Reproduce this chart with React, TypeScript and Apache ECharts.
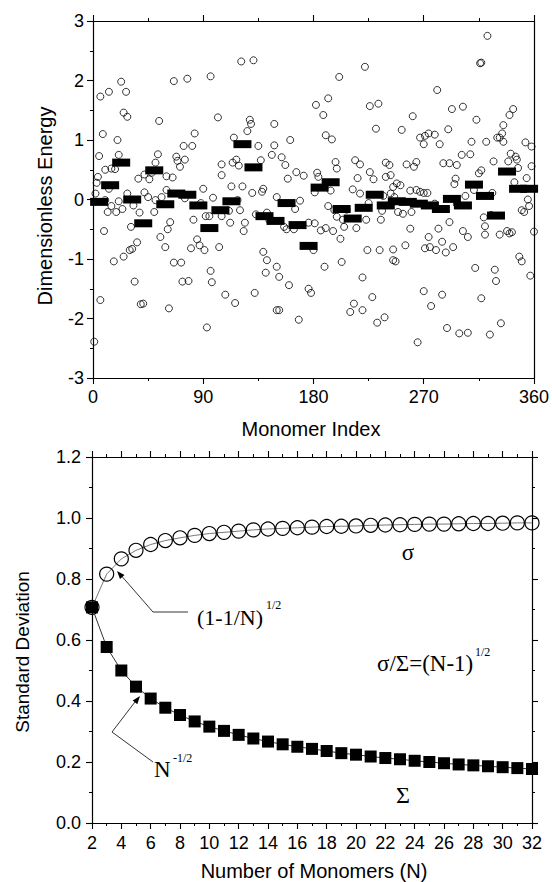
import React, { useEffect, useRef } from "react";
import * as echarts from "echarts";

// ---- Top panel: energy of each monomer (index, value) ----
const energyPoints: [number, number][] = [
  [1,-2.39],[2,0.10],[3,0.28],[4,0.38],[5,0.73],[6,1.73],[6,-1.69],[8,1.10],[9,-0.53],[10,0.50],
  [10,-0.01],[12,-0.21],[13,1.81],[13,0.18],[15,0.52],[15,-0.11],[17,-1.04],[18,0.51],[19,-0.21],[20,1.00],
  [21,-0.03],[21,0.75],[23,1.98],[24,-0.16],[25,1.46],[25,-0.96],[27,1.81],[28,1.39],[28,0.10],[30,-0.85],
  [31,-0.46],[32,-0.83],[33,-0.10],[34,-1.38],[36,-0.72],[37,0.35],[38,-0.22],[39,-1.76],[41,-1.75],[42,0.42],
  [42,0.12],[45,0.04],[46,0.34],[48,0.45],[50,-0.21],[51,0.62],[51,-0.01],[53,0.76],[54,1.32],[55,-0.63],
  [56,0.04],[59,-0.80],[60,0.39],[60,0.16],[61,-0.50],[62,-1.83],
  [63,-0.38],[65,0.37],[66,1.99],[66,-1.06],[68,0.72],[69,0.65],[71,0.55],[72,-1.06],[73,-1.38],[74,0.90],
  [75,0.67],[75,0.02],[77,2.03],[78,-1.37],[80,-0.82],[81,0.90],[82,-0.34],[83,1.11],[85,-0.67],[87,-0.77],
  [88,-0.06],[90,0.18],[91,-0.85],[92,-0.28],[93,-2.15],[95,-0.28],[96,2.07],[96,-1.20],[97,-1.39],[98,0.03],
  [102,1.38],[103,-0.80],[105,0.59],[105,-0.28],[105,0.41],[108,-1.60],[111,-0.19],[112,-0.39],[113,0.22],[114,0.62],
  [115,1.04],[116,-1.74],[117,0.67],[118,-0.01],[119,0.57],[120,-0.18],[121,2.32],[122,0.22],[123,-0.53],[124,-0.39],
  [126,1.15],[128,1.34],[129,1.27],[130,0.11],[131,2.34],[132,-1.57],[133,-0.25],[135,0.90],[137,0.66],[138,0.13],
  [139,0.18],[139,-0.88],[141,-1.23],[142,-1.02],[142,-0.22],[144,-0.35],[146,0.75],[148,0.91],[148,1.27],[150,0.04],
  [150,-1.13],[150,-1.86],[152,-1.30],[152,-1.86],[154,0.71],[156,-0.46],[157,0.58],[158,-0.50],[159,0.35],[160,-1.44],
  [161,1.00],[164,-0.50],[165,-0.16],[166,0.46],[168,-2.02],[169,-0.02],[172,0.40],[176,-0.39],[176,-1.50],[178,-1.57],
  [180,-0.85],[181,-0.40],[181,0.12],[182,1.59],[183,0.45],[184,0.38],[186,-0.52],
  [188,1.42],[189,-1.13],[190,1.08],[190,-0.48],[192,1.70],[192,-0.11],[194,0.15],[195,1.01],[196,-0.53],[197,-0.18],
  [198,0.63],[199,-0.29],[199,0.52],[201,2.06],[202,-0.66],[203,-1.05],[204,-0.34],[205,-0.46],[207,-0.17],[210,-1.89],
  [212,0.17],[213,-1.75],[214,0.66],[215,-0.48],[216,0.36],[218,0.10],[218,0.59],[220,-1.31],[220,-1.86],[222,2.23],
  [223,-0.34],[224,-0.85],[225,-0.06],[226,1.57],[226,0.46],[228,-1.64],[229,0.34],[231,1.19],[232,-2.07],[233,1.61],
  [234,-0.85],[235,-0.34],[236,-0.19],[237,0.06],[238,-1.98],[239,0.62],[239,0.38],[242,0.58],[243,0.41],[243,0.10],
  [245,-0.84],[245,-1.02],
  [245,0.21],[246,0.04],[247,-1.04],[248,0.27],[249,-0.21],[251,0.24],[252,1.17],[253,-0.24],[255,-0.77],[256,0.59],
  [259,0.15],[259,-0.49],[260,-0.21],[261,1.40],[262,0.55],[264,0.16],[264,0.63],[265,-2.40],[267,1.04],[267,0.13],
  [270,-1.54],[270,0.93],[270,0.11],[271,-0.82],[271,1.07],[273,0.11],[274,-0.63],[274,1.11],[275,-0.80],[276,-1.79],
  [279,-0.07],[279,1.09],[280,-0.85],[281,1.84],[282,-0.49],[283,0.93],[285,-0.71],[285,-1.60],[286,0.61],[288,-0.89],
  [289,-2.16],[290,1.18],[291,0.61],[291,-0.38],[293,1.52],[294,-0.80],[295,0.26],[296,0.35],[297,0.58],[297,-0.08],
  [299,-2.25],[301,0.75],[302,-0.53],[302,1.56],[304,0.06],[306,-0.63],[306,-2.24],
  [308,0.76],[309,0.97],[311,0.16],[312,-1.15],[313,1.34],[315,0.44],[316,2.29],[317,2.30],[317,0.49],[317,-1.66],
  [319,-0.30],[320,-0.45],[320,-0.59],[321,0.97],[322,2.75],[324,-2.27],[325,-0.26],[326,0.11],[327,0.64],[328,-1.18],
  [329,-1.37],[330,1.04],[332,1.04],[332,-0.59],[333,-2.08],[334,1.11],[335,1.25],[335,0.97],[338,-0.53],[339,0.64],
  [340,1.42],[340,-0.57],[341,0.77],[342,-0.55],[343,1.52],[344,0.29],[345,0.72],[346,0.67],[347,0.53],[348,-0.96],
  [350,-1.04],[350,-0.18],[352,-0.21],[353,0.96],[354,0.36],[355,0.00],[356,-0.11],[357,-1.28],[358,0.89],[358,0.56],
  [360,-0.54]
];

// Block averages (black bars): block centre index and mean value
const blockCenters = [5,14,23,32,41,50,59,68,77,86,95,104,113,122,131,140,149,158,167,176,
  185,194,203,212,221,230,239,248,257,266,275,284,293,302,311,320,329,338,347,356];
const blockMeans = [-0.04,0.24,0.62,0.00,-0.40,0.49,-0.08,0.10,0.08,-0.10,-0.48,-0.18,-0.03,0.93,0.54,-0.28,-0.36,-0.06,-0.43,-0.78,
  0.20,0.29,-0.16,-0.32,-0.14,0.08,-0.10,-0.03,-0.04,-0.07,-0.10,-0.16,0.01,-0.10,0.25,0.06,-0.27,0.47,0.18,0.18];

// ---- Bottom panel ----
const monomerCounts = [2,3,4,5,6,7,8,9,10,11,12,13,14,15,16,17,18,19,20,21,22,23,24,25,26,27,28,29,30,31,32];
const sigmaValues = [0.707,0.816,0.866,0.894,0.913,0.926,0.935,0.943,0.949,0.953,0.957,0.961,0.964,0.966,0.968,0.970,
  0.972,0.973,0.974,0.976,0.977,0.978,0.979,0.980,0.980,0.981,0.982,0.982,0.983,0.984,0.984];
const bigSigmaValues = [0.707,0.577,0.500,0.447,0.408,0.378,0.354,0.333,0.316,0.302,0.289,0.277,0.267,0.258,0.250,0.243,
  0.236,0.229,0.224,0.218,0.213,0.209,0.204,0.200,0.196,0.192,0.189,0.186,0.183,0.180,0.177];

const SANS = '"Liberation Sans", Arial, sans-serif';
const SERIF = '"Liberation Serif", "Times New Roman", serif';

const axisLineStyle = { color: "#000", width: 1.2 };

function valueAxis(extra: any) {
  return {
    type: "value",
    splitLine: { show: false },
    axisLine: { show: true, onZero: false, lineStyle: axisLineStyle },
    axisTick: { show: true, length: 6, lineStyle: { color: "#000", width: 1.1 } },
    minorTick: { show: true, splitNumber: 2, length: 3, lineStyle: { color: "#000", width: 1 } },
    axisLabel: { show: true, color: "#000", fontFamily: SANS, fontSize: 18 },
    ...extra,
  };
}

export default function App() {
  const ref = useRef<HTMLDivElement>(null);

  useEffect(() => {
    const chart = echarts.init(ref.current!, null, { renderer: "svg" });

    const hidden = { show: false };
    const option: any = {
      animation: false,
      backgroundColor: "#fff",
      grid: [
        { left: 93, top: 21, width: 441, height: 357 },
        { left: 92, top: 457, width: 440, height: 366 },
      ],
      xAxis: [
        valueAxis({ gridIndex: 0, min: 0, max: 360, interval: 90, position: "bottom",
          axisLabel: { color: "#000", fontFamily: SANS, fontSize: 18, margin: 10 } }),
        valueAxis({ gridIndex: 0, min: 0, max: 360, interval: 90, position: "top", axisLabel: hidden }),
        valueAxis({ gridIndex: 1, min: 2, max: 32, interval: 2, position: "bottom",
          axisLabel: { color: "#000", fontFamily: SANS, fontSize: 18, margin: 11 } }),
        valueAxis({ gridIndex: 1, min: 2, max: 32, interval: 2, position: "top", axisLabel: hidden }),
      ],
      yAxis: [
        valueAxis({ gridIndex: 0, min: -3, max: 3, interval: 1, position: "left",
          axisLabel: { color: "#000", fontFamily: SANS, fontSize: 18, margin: 9 } }),
        valueAxis({ gridIndex: 0, min: -3, max: 3, interval: 1, position: "right",
          axisLabel: hidden, axisTick: hidden, minorTick: hidden }),
        valueAxis({ gridIndex: 1, min: 0, max: 1.2, interval: 0.2, position: "left",
          axisLabel: { color: "#000", fontFamily: SANS, fontSize: 18, margin: 11,
            formatter: (v: number) => v.toFixed(1) } }),
        valueAxis({ gridIndex: 1, min: 0, max: 1.2, interval: 0.2, position: "right", axisLabel: hidden }),
      ],
      series: [
        {
          type: "scatter",
          xAxisIndex: 0,
          yAxisIndex: 0,
          symbol: "circle",
          symbolSize: 7,
          data: energyPoints,
          itemStyle: { color: "rgba(0,0,0,0)", borderColor: "#000", borderWidth: 0.8, opacity: 1 },
          z: 2,
        },
        {
          type: "scatter",
          xAxisIndex: 0,
          yAxisIndex: 0,
          symbol: "rect",
          symbolSize: [18, 8],
          data: blockCenters.map((c, i) => [c, blockMeans[i]]),
          itemStyle: { color: "#000", opacity: 1 },
          z: 3,
        },
        {
          type: "line",
          xAxisIndex: 2,
          yAxisIndex: 2,
          data: monomerCounts.map((n, i) => [n, sigmaValues[i]]),
          symbol: "circle",
          symbolSize: 14,
          showSymbol: true,
          lineStyle: { color: "#777", width: 1 },
          itemStyle: { color: "rgba(0,0,0,0)", borderColor: "#000", borderWidth: 1.2, opacity: 1 },
          z: 2,
        },
        {
          type: "line",
          xAxisIndex: 2,
          yAxisIndex: 2,
          data: monomerCounts.map((n, i) => [n, bigSigmaValues[i]]),
          symbol: "rect",
          symbolSize: 12,
          showSymbol: true,
          lineStyle: { color: "#333", width: 1 },
          itemStyle: { color: "#000", opacity: 1 },
          z: 3,
        },
      ],
      graphic: [
        { type: "text", x: 45, y: 206, rotation: Math.PI / 2,
          style: { text: "Dimensionless Energy", font: `20px ${SANS}`, fill: "#000", align: "center", verticalAlign: "middle" } },
        { type: "text", x: 311, y: 429,
          style: { text: "Monomer Index", font: `20px ${SANS}`, fill: "#000", align: "center", verticalAlign: "middle" } },
        { type: "text", x: 22, y: 652, rotation: Math.PI / 2,
          style: { text: "Standard Deviation", font: `19px ${SANS}`, fill: "#000", align: "center", verticalAlign: "middle" } },
        { type: "text", x: 314, y: 871,
          style: { text: "Number of Monomers (N)", font: `20px ${SANS}`, fill: "#000", align: "center", verticalAlign: "middle" } },
        { type: "text", x: 408, y: 552,
          style: { text: "σ", font: `23px ${SERIF}`, fill: "#000", align: "center", verticalAlign: "middle" } },
        { type: "text", x: 403, y: 795,
          style: { text: "Σ", font: `24px ${SERIF}`, fill: "#000", align: "center", verticalAlign: "middle" } },
        { type: "text", x: 197, y: 617,
          style: { text: "(1-1/N)", font: `22px ${SERIF}`, fill: "#000", align: "left", verticalAlign: "middle" } },
        { type: "text", x: 266, y: 605,
          style: { text: "1/2", font: `12px ${SERIF}`, fill: "#000", align: "left", verticalAlign: "middle" } },
        { type: "text", x: 377, y: 663,
          style: { text: "σ/Σ=(N-1)", font: `23px ${SERIF}`, fill: "#000", align: "left", verticalAlign: "middle" } },
        { type: "text", x: 475, y: 652,
          style: { text: "1/2", font: `12px ${SERIF}`, fill: "#000", align: "left", verticalAlign: "middle" } },
        { type: "text", x: 154, y: 769,
          style: { text: "N", font: `23px ${SERIF}`, fill: "#000", align: "left", verticalAlign: "middle" } },
        { type: "text", x: 173, y: 758,
          style: { text: "-1/2", font: `12px ${SERIF}`, fill: "#000", align: "left", verticalAlign: "middle" } },
        { type: "polyline", shape: { points: [[188, 612], [153, 612], [119, 573]] },
          style: { stroke: "#000", lineWidth: 0.8, fill: null } },
        { type: "polygon", shape: { points: [[117, 571], [124.5, 575], [120, 579]] },
          style: { fill: "#000" } },
        { type: "polyline", shape: { points: [[153, 762], [112, 732], [138, 698]] },
          style: { stroke: "#000", lineWidth: 0.8, fill: null } },
        { type: "polygon", shape: { points: [[140, 696], [137.3, 704.2], [132.7, 700.4]] },
          style: { fill: "#000" } },
      ],
    };

    chart.setOption(option);
    return () => chart.dispose();
  }, []);

  return (
    <div
      ref={ref}
      style={{ position: "fixed", left: 0, top: 0, width: 552, height: 882, background: "#fff" }}
    />
  );
}
